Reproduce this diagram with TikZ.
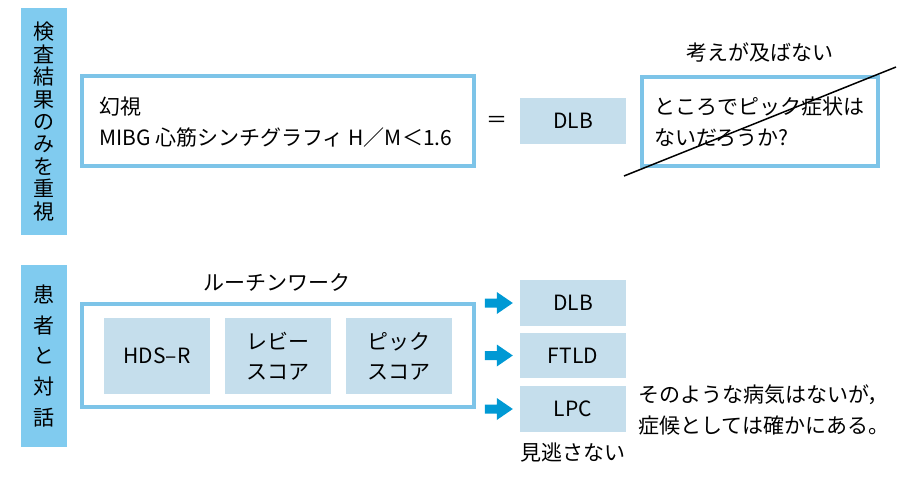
\documentclass[tikz,border=0pt]{standalone}
\usepackage{fontspec}
\setmainfont{Noto Sans CJK JP}
\definecolor{barblue}{RGB}{128,203,239}
\definecolor{frameblue}{RGB}{125,196,232}
\definecolor{lightfill}{RGB}{197,222,236}
\definecolor{arrowblue}{RGB}{0,153,212}
\tikzset{
  sidebar/.style={fill=barblue, minimum width=46pt, inner sep=0pt, align=center},
  frame/.style={draw=frameblue, line width=4pt, inner sep=0pt},
  fillbox/.style={fill=lightfill, inner sep=0pt, align=center, minimum width=106pt},
  txt/.style={inner sep=0pt, font=\fontsize{21}{30.5}\selectfont},
  arrowfill/.style={fill=arrowblue},
}
\begin{document}
\begin{tikzpicture}[x=1pt,y=-1pt]
\useasboundingbox (0,0) rectangle (910,477);
% side bars
\node[sidebar, minimum height=227pt, font=\fontsize{21}{22.4}\selectfont] (s1) at (44,121.5)
  {検\\査\\結\\果\\の\\み\\を\\重\\視};
\node[sidebar, minimum height=182pt, font=\fontsize{21}{30.6}\selectfont] (s2) at (44,356)
  {患\\者\\と\\対\\話};
% top row
\node[frame, minimum width=392pt, minimum height=90pt] (b1) at (278,121) {};
\node[txt, anchor=west, align=left] (t1) at (99,122) {幻視\\MIBG 心筋シンチグラフィ H／M＜1.6};
\node[txt] (eq) at (497,122) {＝};
\node[fillbox, minimum height=46pt, font=\fontsize{21}{22}\selectfont] (dlb0) at (573,121) {DLB};
\node[frame, minimum width=236pt, minimum height=89pt] (rb) at (760,121.5) {};
\node[txt, anchor=west, align=left] (t2) at (654,122) {ところでピック症状は\\ないだろうか?};
\node[txt] (t3) at (760,52) {考えが及ばない};
\draw[line width=1.5pt] ([shift={(-16,8)}]rb.south west) -- ([shift={(16,-8)}]rb.north east);
% bottom row
\node[txt] (rw) at (277,282) {ルーチンワーク};
\node[frame, minimum width=392pt, minimum height=103pt] (b2) at (278,355.5) {};
\node[fillbox, minimum height=76pt, font=\fontsize{21}{30}\selectfont] (hds) at (157,356) {HDS–R};
\node[fillbox, minimum height=76pt, font=\fontsize{21}{30}\selectfont] (lewy) at (278,356) {レビー\\スコア};
\node[fillbox, minimum height=76pt, font=\fontsize{21}{30}\selectfont] (pick) at (399,356) {ピック\\スコア};
\node[fillbox, minimum height=46pt, font=\fontsize{21}{22}\selectfont] (d1) at (573,303) {DLB};
\node[fillbox, minimum height=45pt, font=\fontsize{21}{22}\selectfont] (d2) at (573,355.5) {FTLD};
\node[fillbox, minimum height=46pt, font=\fontsize{21}{22}\selectfont] (d3) at (573,409) {LPC};
\foreach \d in {d1,d2,d3}{
  \fill[arrowfill] ([shift={(-35,-4.5)}]\d.west) -- ([shift={(-23,-4.5)}]\d.west)
    -- ([shift={(-23,-11)}]\d.west) -- ([shift={(-7,0)}]\d.west)
    -- ([shift={(-23,11)}]\d.west) -- ([shift={(-23,4.5)}]\d.west)
    -- ([shift={(-35,4.5)}]\d.west) -- cycle;
}
\node[txt] (miss) at (573,453) {見逃さない};
\node[txt, anchor=west, align=left] (t4) at (638,410) {そのような病気はないが，\\症候としては確かにある。};
\end{tikzpicture}
\end{document}
